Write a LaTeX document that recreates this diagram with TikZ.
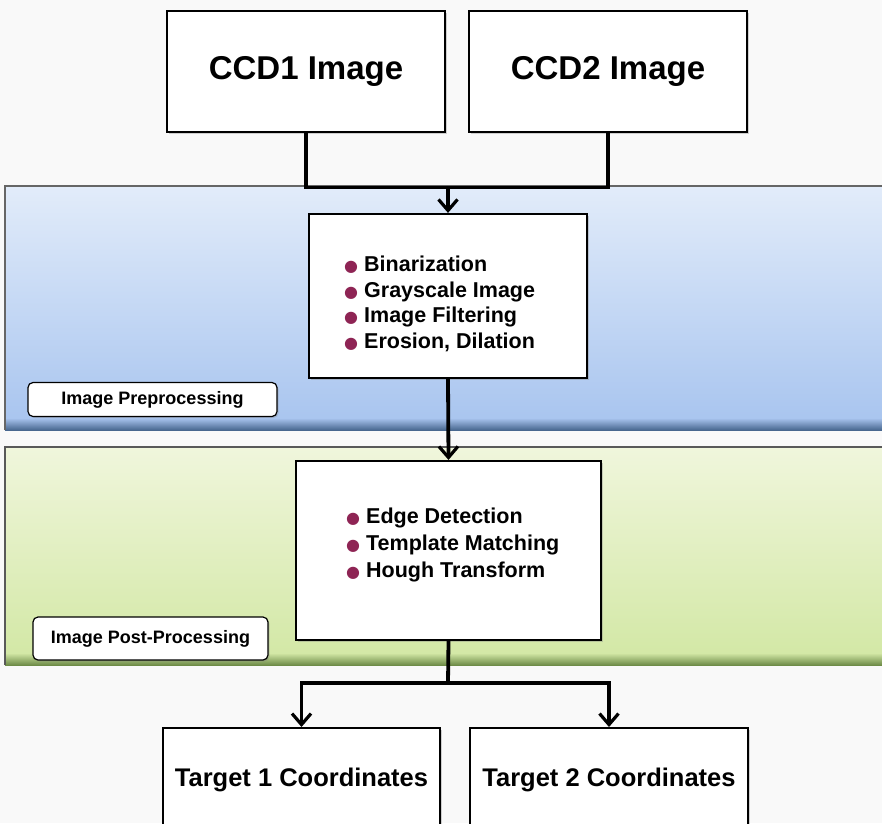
\documentclass[tikz,border=0pt]{standalone}
\usepackage{fontspec}
\setmainfont{Liberation Sans}
\newfontfamily\symfont{DejaVu Sans}
\usetikzlibrary{arrows.meta,shadows}
\definecolor{bul}{HTML}{8E2454}
\definecolor{bgcol}{HTML}{F9F9F9}
\definecolor{bluetop}{HTML}{E2ECFA}
\definecolor{bluebot}{HTML}{A9C5EF}
\definecolor{bluedark}{HTML}{48678F}
\definecolor{greentop}{HTML}{F0F6DC}
\definecolor{greenbot}{HTML}{D3E8A6}
\definecolor{greendark}{HTML}{6E8C48}
\newcommand{\bul}{{\symfont\fontsize{16}{16}\selectfont\textcolor{bul}{●}}\hspace{6pt}}
\tikzset{
  boxstyle/.style={draw=black, line width=2.2pt, fill=white, inner sep=0pt,
    drop shadow={shadow xshift=2pt, shadow yshift=-2pt, opacity=0.35}},
  labelbox/.style={draw=black, line width=1.2pt, fill=white, rounded corners=5pt,
    inner sep=0pt, font=\bfseries\fontsize{18}{20}\selectfont,
    drop shadow={shadow xshift=1.5pt, shadow yshift=-1.5pt, opacity=0.3}},
  bigtext/.style={font=\bfseries\fontsize{33}{36}\selectfont},
  tgttext/.style={font=\bfseries\fontsize{25.5}{28}\selectfont},
  listtext/.style={font=\bfseries\fontsize{21.5}{25.7}\selectfont, align=left, inner sep=0pt},
  flow/.style={line width=3.8pt, line cap=rect},
  flowarrow/.style={line width=3.8pt, -{Straight Barb[length=11pt,width=19pt,line width=3.2pt]}}
}
\begin{document}
\begin{tikzpicture}[x=1pt,y=-1pt]
\useasboundingbox (0,0) rectangle (882,823);
\fill[bgcol] (0,0) rectangle (882,823);
% blue band
\shade[top color=bluetop, bottom color=bluebot] (5,186) rectangle (882,420);
\shade[top color=bluebot, bottom color=bluedark] (5,418) rectangle (882,430);
\draw[gray!80!black, line width=1.2pt] (5,430) -- (5,186) -- (882,186);
% green band
\shade[top color=greentop, bottom color=greenbot] (5,447) rectangle (882,655);
\shade[top color=greenbot, bottom color=greendark] (5,653) rectangle (882,665);
\draw[gray!70!black, line width=1.2pt] (5,665) -- (5,447) -- (882,447);

% top boxes
\node[boxstyle, bigtext, minimum width=278pt, minimum height=121pt] (ccd1) at (306,71.5) {CCD1 Image};
\node[boxstyle, bigtext, minimum width=278pt, minimum height=121pt] (ccd2) at (608,71.5) {CCD2 Image};

% process boxes
\node[boxstyle, minimum width=278pt, minimum height=164pt] (pre) at (448,296) {};
\node[listtext, anchor=west] (pretxt) at (344,304) {\bul Binarization\\\bul Grayscale Image\\\bul Image Filtering\\\bul Erosion, Dilation};
\node[boxstyle, minimum width=305pt, minimum height=179pt] (post) at (448.5,550.5) {};
\node[listtext, anchor=west, font=\bfseries\fontsize{21.5}{27}\selectfont] (posttxt) at (346,545) {\bul Edge Detection\\\bul Template Matching\\\bul Hough Transform};

% labels
\node[labelbox, minimum width=249pt, minimum height=34pt] (lpre) at (152.5,399.5) {Image Preprocessing};
\node[labelbox, minimum width=235pt, minimum height=43pt] (lpost) at (150.5,638.5) {Image Post-Processing};

% target boxes
\node[boxstyle, tgttext, minimum width=277pt, minimum height=104pt, anchor=north] (t1) at (301.5,727) {Target 1 Coordinates};
\node[boxstyle, tgttext, minimum width=278pt, minimum height=104pt, anchor=north] (t2) at (609,727) {Target 2 Coordinates};

% connectors
\coordinate (merge) at (448,187.5);
\coordinate (split) at (448,683);
\draw[flow] (ccd1.south) |- (merge) -| (ccd2.south);
\draw[flowarrow] (merge) -- (pre.north);
\draw[flowarrow] (pre.south) -- (post.north);
\draw[flow] (post.south) -- (split);
\draw[flowarrow] (split) -| (t1.north);
\draw[flowarrow] (split) -| (t2.north);
\end{tikzpicture}
\end{document}
